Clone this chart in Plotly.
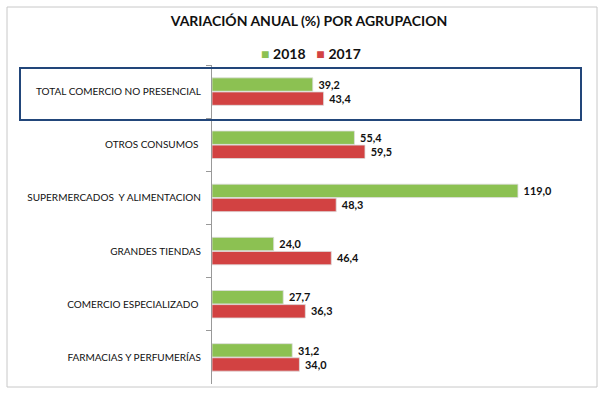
import plotly.graph_objects as go

categories = ["TOTAL COMERCIO NO PRESENCIAL", "OTROS CONSUMOS ", "SUPERMERCADOS  Y ALIMENTACION",
              "GRANDES TIENDAS", "COMERCIO ESPECIALIZADO ", "FARMACIAS Y PERFUMERÍAS"]
values_2018 = [39.2, 55.4, 119.0, 24.0, 27.7, 31.2]
values_2017 = [43.4, 59.5, 48.3, 46.4, 36.3, 34.0]
series_names = ["2018", "2017"]
title_text = "VARIACIÓN ANUAL (%) POR AGRUPACION"

W, H = 603, 393
L, R, T, B = 212, 572, 65, 384  # plot area in pixels


def px(x):
    return (x - L) / (R - L)


def py(y):
    return (B - y) / (B - T)


def fmt(v):
    return " " + f"{v:.1f}".replace(".", ",")


FONT = "Lato, Liberation Sans, Arial"
GREEN = "#8CC152"
RED = "#D24242"

fig = go.Figure()
fig.add_trace(go.Bar(
    y=categories, x=values_2018, name=series_names[0], orientation="h",
    marker=dict(color=GREEN, line=dict(color="#dddddd", width=0.8)),
    text=[fmt(v) for v in values_2018], textposition="outside",
    textfont=dict(family=FONT, size=13, color="#111111", weight="bold"),
    cliponaxis=False, showlegend=False,
))
fig.add_trace(go.Bar(
    y=categories, x=values_2017, name=series_names[1], orientation="h",
    marker=dict(color=RED, line=dict(color="#dddddd", width=0.8)),
    text=[fmt(v) for v in values_2017], textposition="outside",
    textfont=dict(family=FONT, size=13, color="#111111", weight="bold"),
    cliponaxis=False, showlegend=False,
))

legend_text = (f"<span style='color:{GREEN}'>■</span> <b>{series_names[0]}</b>"
               f"   <span style='color:{RED}'>■</span> <b>{series_names[1]}</b>")

frame_color = "#c8c8c8"
fig.update_layout(
    width=W, height=H,
    margin=dict(l=L, r=W - R, t=T, b=H - B, pad=0, autoexpand=False),
    paper_bgcolor="white", plot_bgcolor="white",
    barmode="group", bargap=0.47, bargroupgap=0.05,
    title=dict(text=f"<b>{title_text}</b>", x=px(309), xanchor="center", xref="paper",
               y=1 - 21 / H, yanchor="middle",
               font=dict(family=FONT, size=14, color="#111111")),
    xaxis=dict(range=[0, (R - L) / 2.571], showgrid=False, zeroline=False,
               showticklabels=False, showline=False, ticks="", automargin=False),
    yaxis=dict(autorange="reversed", showline=True, linecolor="#999999", linewidth=1,
               ticks="outside", tickson="boundaries", ticklen=5, tickcolor="#999999",
               showgrid=False, ticklabelstandoff=8, automargin=False,
               tickfont=dict(family=FONT, size=10, color="#111111")),
    annotations=[
        dict(text=legend_text, xref="paper", yref="paper", x=px(311), y=py(53),
             xanchor="center", yanchor="middle", showarrow=False,
             font=dict(family=FONT, size=14, color="#111111")),
    ],
    shapes=[
        dict(type="line", xref="paper", yref="paper", x0=px(7), x1=px(597), y0=py(7), y1=py(7),
             line=dict(color=frame_color, width=1), layer="above"),
        dict(type="line", xref="paper", yref="paper", x0=px(7), x1=px(597), y0=py(387), y1=py(387),
             line=dict(color=frame_color, width=1), layer="above"),
        dict(type="line", xref="paper", yref="paper", x0=px(7), x1=px(7), y0=py(7), y1=py(387),
             line=dict(color=frame_color, width=1), layer="above"),
        dict(type="line", xref="paper", yref="paper", x0=px(597), x1=px(597), y0=py(7), y1=py(387),
             line=dict(color=frame_color, width=1), layer="above"),
        dict(type="rect", xref="paper", yref="paper", x0=px(20), x1=px(581), y0=py(120), y1=py(68),
             line=dict(color="#22467A", width=2), layer="above"),
    ],
)

fig.write_html("out.html", config={"displayModeBar": False},
               post_script="document.body.style.margin='0';")
